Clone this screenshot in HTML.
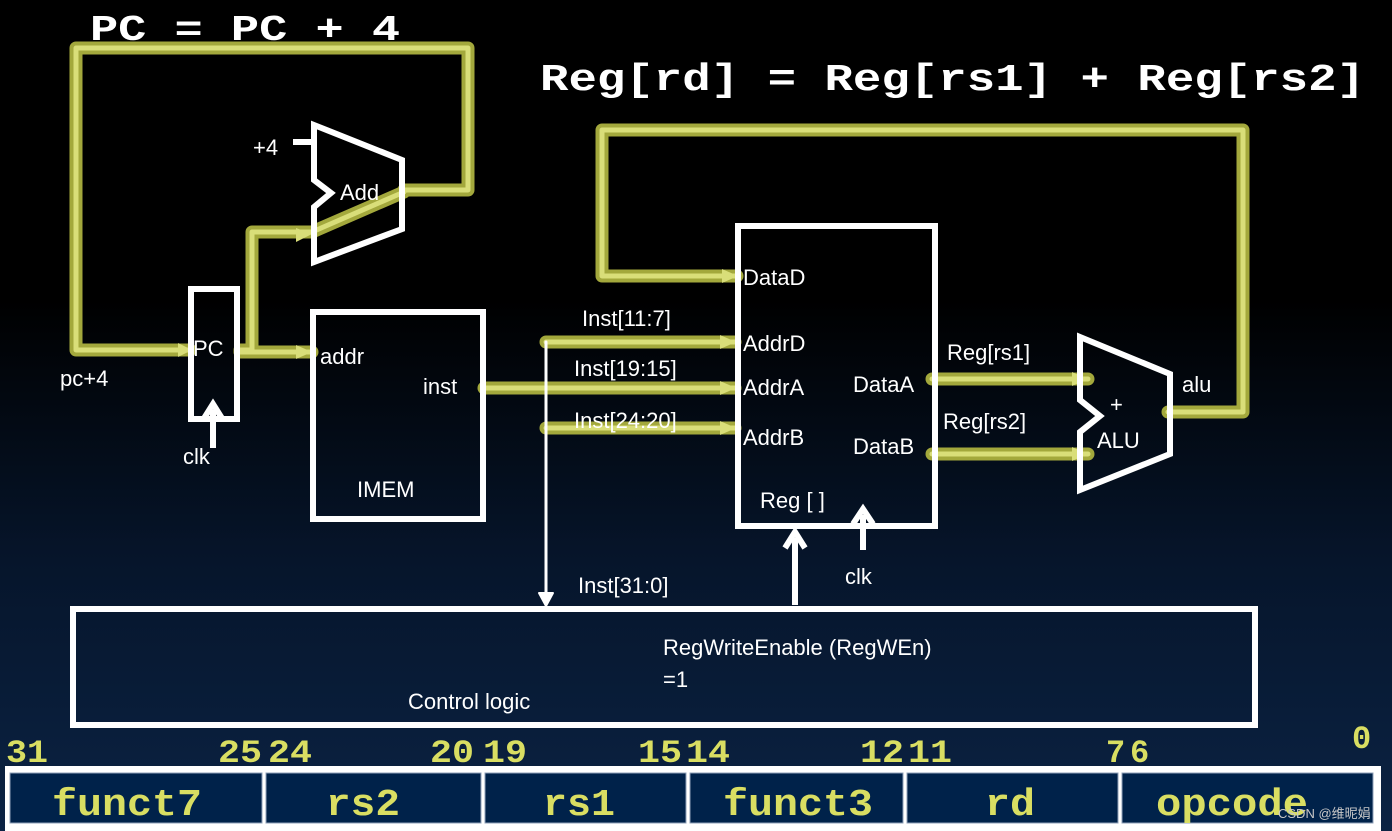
<!DOCTYPE html>
<html><head><meta charset="utf-8"><style>
html,body{margin:0;padding:0}
body{width:1392px;height:831px;overflow:hidden;background:linear-gradient(#000 0px,#000 300px,#06152b 560px,#0b2344 831px)}
svg{display:block}
.t{font-family:"Liberation Sans",sans-serif;fill:#fff;font-size:22px}
.m{font-family:"Liberation Mono",monospace;font-weight:bold}
</style></head><body>
<svg width="1392" height="831" viewBox="0 0 1392 831" xmlns="http://www.w3.org/2000/svg">
<g fill="none" stroke-linejoin="round" stroke-linecap="round">
<g stroke="#a3a83c" stroke-width="13">
<path d="M404,190 H468 V48 H76 V350 H190"/>
<path d="M240,350 H252 V232 H312 L404,192"/>
<path d="M240,352 H312"/>
<path d="M484,388 H548"/>
<path d="M546,342 H735 M546,388 H735 M546,428 H735"/>
<path d="M1168,412 H1243 V130 H602 V276 H737"/>
<path d="M932,379 H1088 M932,454 H1088"/>
</g>
<g stroke="#d9de79" stroke-width="5">
<path d="M404,190 H468 V48 H76 V350 H190"/>
<path d="M240,350 H252 V232 H312 L404,192"/>
<path d="M240,352 H312"/>
<path d="M484,388 H548"/>
<path d="M546,342 H735 M546,388 H735 M546,428 H735"/>
<path d="M1168,412 H1243 V130 H602 V276 H737"/>
<path d="M932,379 H1088 M932,454 H1088"/>
</g>
<g fill="#d9de79" stroke="none">
<path d="M178,343 L192,350 L178,357Z"/><path d="M296,228 L312,234 L296,242Z"/>
<path d="M296,345 L312,352 L296,359Z"/><path d="M720,335 L736,342 L720,349Z"/>
<path d="M720,381 L736,388 L720,395Z"/><path d="M720,421 L736,428 L720,435Z"/>
<path d="M722,269 L738,276 L722,283Z"/><path d="M1072,372 L1088,379 L1072,386Z"/>
<path d="M1072,447 L1088,454 L1072,461Z"/>
</g>
<g stroke="#fff" stroke-width="6" stroke-linecap="butt" stroke-linejoin="miter">
<rect x="191" y="289" width="46" height="130"/>
<rect x="313" y="312" width="170" height="207"/>
<rect x="738" y="226" width="197" height="300"/>
<polygon points="314,125 402,160 402,229 314,262 314,207 331,193 314,180"/>
<polygon points="1080,337 1170,374 1170,454 1080,490 1080,432 1100,416 1080,400"/>
<path d="M293,142 H314"/>
<rect x="73" y="609" width="1182" height="116"/>
<path d="M213,448 V410 M203,420 L213,404 L223,420"/>
<path d="M863,550 V515 M853,524 L863,509 L873,524"/>
<path d="M795,605 V538 M785,548 L795,532 L805,548"/>
</g>
<path d="M546,342 V596" stroke="#fff" stroke-width="3"/>
<path d="M539,593 L546,606 L553,593Z" fill="#fff" stroke="#fff" stroke-width="2"/>
</g>
<text class="m" x="90" y="40" fill="#fff" font-size="36" textLength="310" lengthAdjust="spacingAndGlyphs">PC = PC + 4</text>
<text class="m" x="540" y="90" fill="#fff" font-size="38" textLength="825" lengthAdjust="spacingAndGlyphs">Reg[rd] = Reg[rs1] + Reg[rs2]</text>
<text class="t" x="253" y="155">+4</text>
<text class="t" x="340" y="200">Add</text>
<text class="t" x="193" y="356" font-size="19">PC</text>
<text class="t" x="60" y="386">pc+4</text>
<text class="t" x="183" y="464">clk</text>
<text class="t" x="320" y="364">addr</text>
<text class="t" x="423" y="394">inst</text>
<text class="t" x="357" y="497" font-size="24">IMEM</text>
<text class="t" x="582" y="326">Inst[11:7]</text>
<text class="t" x="574" y="376">Inst[19:15]</text>
<text class="t" x="574" y="428">Inst[24:20]</text>
<text class="t" x="578" y="593">Inst[31:0]</text>
<text class="t" x="743" y="285">DataD</text>
<text class="t" x="743" y="351">AddrD</text>
<text class="t" x="743" y="395">AddrA</text>
<text class="t" x="743" y="445">AddrB</text>
<text class="t" x="853" y="392">DataA</text>
<text class="t" x="853" y="454">DataB</text>
<text class="t" x="760" y="508">Reg [ ]</text>
<text class="t" x="845" y="584">clk</text>
<text class="t" x="947" y="360">Reg[rs1]</text>
<text class="t" x="943" y="429">Reg[rs2]</text>
<text class="t" x="1182" y="392">alu</text>
<text class="t" x="1110" y="412" font-size="34">+</text>
<text class="t" x="1097" y="448" font-size="27">ALU</text>
<text class="t" x="663" y="655">RegWriteEnable (RegWEn)</text>
<text class="t" x="663" y="687">=1</text>
<text class="t" x="408" y="709" font-size="26">Control logic</text>
<g class="m" fill="#d9de62" font-size="32">
<text x="6" y="762" textLength="42" lengthAdjust="spacingAndGlyphs">31</text><text x="218" y="762" textLength="44" lengthAdjust="spacingAndGlyphs">25</text><text x="268" y="762" textLength="44" lengthAdjust="spacingAndGlyphs">24</text>
<text x="430" y="762" textLength="44" lengthAdjust="spacingAndGlyphs">20</text><text x="483" y="762" textLength="44" lengthAdjust="spacingAndGlyphs">19</text><text x="638" y="762" textLength="44" lengthAdjust="spacingAndGlyphs">15</text>
<text x="686" y="762" textLength="44" lengthAdjust="spacingAndGlyphs">14</text><text x="860" y="762" textLength="44" lengthAdjust="spacingAndGlyphs">12</text><text x="908" y="762" textLength="44" lengthAdjust="spacingAndGlyphs">11</text>
<text x="1106" y="762">7</text><text x="1130" y="762">6</text><text x="1352" y="748">0</text>
</g>
<rect x="5" y="766" width="1376" height="65" fill="#fff"/>
<g fill="#00224a" stroke="#8fa0b8" stroke-width="1">
<rect x="10" y="773" width="252" height="50"/>
<rect x="266" y="773" width="215" height="50"/>
<rect x="485" y="773" width="201" height="50"/>
<rect x="690" y="773" width="213" height="50"/>
<rect x="907" y="773" width="211" height="50"/>
<rect x="1122" y="773" width="251" height="50"/>
</g>
<g class="m" fill="#d9de62" font-size="38">
<text x="52" y="815" textLength="150" lengthAdjust="spacingAndGlyphs">funct7</text>
<text x="326" y="815" textLength="74" lengthAdjust="spacingAndGlyphs">rs2</text>
<text x="543" y="815" textLength="72" lengthAdjust="spacingAndGlyphs">rs1</text>
<text x="723" y="815" textLength="150" lengthAdjust="spacingAndGlyphs">funct3</text>
<text x="985" y="815" textLength="50" lengthAdjust="spacingAndGlyphs">rd</text>
<text x="1156" y="815" textLength="152" lengthAdjust="spacingAndGlyphs">opcode</text>
</g>
<text x="1278" y="818" font-family="Liberation Sans,'Noto Sans CJK SC',sans-serif" font-size="13" fill="#c8c8c8">CSDN @维昵娟</text>
</svg>
</body></html>
